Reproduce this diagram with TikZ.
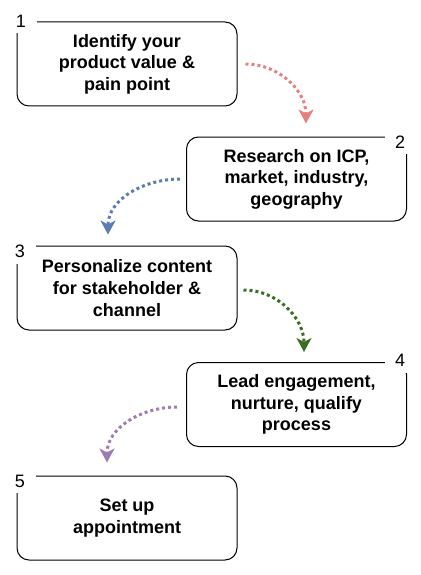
\documentclass[tikz,border=0pt]{standalone}
\usepackage{fontspec}
\setmainfont{Liberation Sans}
\usetikzlibrary{arrows.meta}
\definecolor{arrred}{HTML}{E6807E}
\definecolor{arrblue}{HTML}{5B7DB1}
\definecolor{arrgreen}{HTML}{3B6E23}
\definecolor{arrpurple}{HTML}{A07CB4}

\begin{document}
\begin{tikzpicture}[x=1pt,y=1pt,>={Stealth[length=14pt,width=15pt,inset=4pt]},
    step box/.style={draw, line width=1pt, rounded corners=12pt, minimum width=220pt, minimum height=84pt, align=center, font=\bfseries\fontsize{18}{21.6}\selectfont},
    num/.style={fill=white, inner sep=0pt, minimum width=30pt, minimum height=24pt, font=\fontsize{18}{21.6}\selectfont},
    flow/.style={->, line width=3pt, dash pattern=on 3pt off 3pt}]

            \useasboundingbox (0,0) rectangle (420,-575);

            \node[step box] (b1) at (127,-64) {Identify your\\product value \&\\pain point};
            \node[step box] (b2) at (296.5,-179) {Research on ICP,\\market, industry,\\geography};
            \node[step box] (b3) at (127,-288) {Personalize content\\for stakeholder \&\\channel};
            \node[step box] (b4) at (296.5,-404.5) {Lead engagement,\\nurture, qualify\\process};
            \node[step box] (b5) at (127,-518) {Set up\\appointment};

            % step numbers on the corners
            \node[num, minimum width=32pt] (n1) at (21,-21.5) {1};
            \node[num] (n2) at (400,-142) {2};
            \node[num, minimum width=32pt] (n3) at (20,-251.5) {3};
            \node[num] (n4) at (400,-360.5) {4};
            \node[num, minimum width=32pt] (n5) at (20,-481) {5};

            \draw[flow, arrred] ([xshift=8pt]b1.east) to[out=0, in=90] ([xshift=9.5pt, yshift=13pt]b2.north);
            \draw[flow, arrblue] ([xshift=-6pt]b2.west) to[out=180, in=90] ([xshift=-19pt, yshift=11pt]b3.north);
            \draw[flow, arrgreen] ([xshift=6pt, yshift=-2pt]b3.east) to[out=0, in=90] ([xshift=7.5pt, yshift=10pt]b4.north);
            \draw[flow, arrpurple] ([xshift=-9pt, yshift=-2.5pt]b4.west) to[out=180, in=90] ([xshift=-20pt, yshift=13pt]b5.north);

        \end{tikzpicture}
\end{document}
